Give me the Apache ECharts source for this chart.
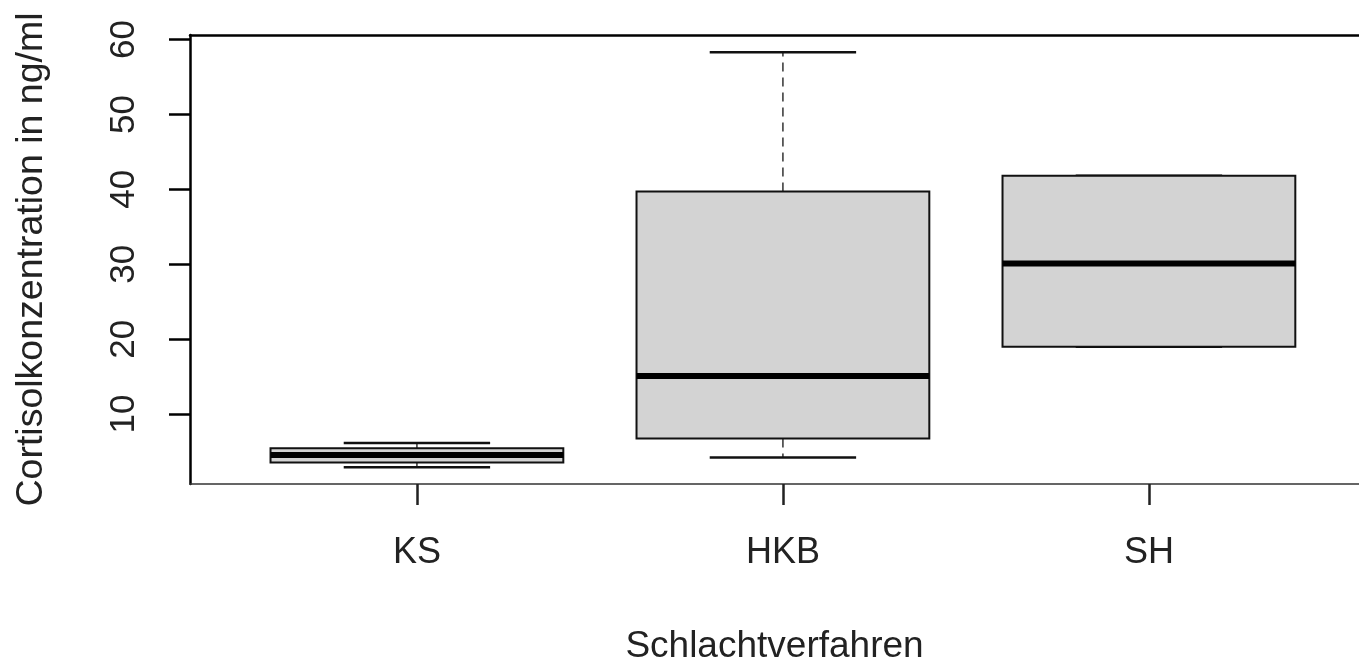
<!DOCTYPE html>
<html>
<head>
<meta charset="utf-8">
<script src="https://cdn.jsdelivr.net/npm/echarts@6/dist/echarts.min.js"></script>
<style>
  body { margin: 0; background: #fff; }
  #boxChart { width: 1359px; height: 663px; }
</style>
</head>
<body>
<div id="boxChart"></div>
<script>
// categories (group position 1, 2, 3 on the x axis)
let categories = ["KS", "HKB", "SH"];
let positions = [1, 2, 3];

// five number summary per group
let whiskerLow = [2.9, 4.2, 19.0];
let lowerQuartile = [3.55, 6.75, 19.0];
let median = [4.55, 15.1, 30.1];
let upperQuartile = [5.45, 39.7, 41.8];
let whiskerHigh = [6.15, 58.3, 41.8];

// tick values on the y axis
let yTicks = [10, 20, 30, 40, 50, 60];

let myChart = echarts.init(document.getElementById("boxChart"));

// building rows for the custom series
let boxData = positions.map((p, i) => [
  p,
  whiskerLow[i],
  lowerQuartile[i],
  median[i],
  upperQuartile[i],
  whiskerHigh[i],
]);

const fontFam = "Liberation Sans, Arial, sans-serif";

function renderBox(params, api) {
  let x = api.value(0);
  let low = api.value(1);
  let q1 = api.value(2);
  let med = api.value(3);
  let q3 = api.value(4);
  let high = api.value(5);

  let boxL = api.coord([x - 0.4, q3]);
  let boxR = api.coord([x + 0.4, q1]);
  let c = api.coord([x, 0]);
  let yLow = api.coord([x, low])[1];
  let yQ1 = api.coord([x, q1])[1];
  let yMed = api.coord([x, med])[1];
  let yQ3 = api.coord([x, q3])[1];
  let yHigh = api.coord([x, high])[1];
  let stapleL = api.coord([x - 0.2, low])[0];
  let stapleR = api.coord([x + 0.2, low])[0];

  let dashed = { stroke: "#333", lineWidth: 1.5, lineDash: [9, 6] };
  let solid = { stroke: "#111", lineWidth: 2.5 };

  return {
    type: "group",
    children: [
      // whiskers (dashed)
      { type: "line", shape: { x1: c[0], y1: yQ3, x2: c[0], y2: yHigh }, style: dashed },
      { type: "line", shape: { x1: c[0], y1: yQ1, x2: c[0], y2: yLow }, style: dashed },
      // staples
      { type: "line", shape: { x1: stapleL, y1: yHigh, x2: stapleR, y2: yHigh }, style: solid },
      { type: "line", shape: { x1: stapleL, y1: yLow, x2: stapleR, y2: yLow }, style: solid },
      // box
      {
        type: "rect",
        shape: { x: boxL[0], y: boxL[1], width: boxR[0] - boxL[0], height: boxR[1] - boxL[1] },
        style: { fill: "#d3d3d3", stroke: "#111", lineWidth: 2 },
      },
      // median
      { type: "line", shape: { x1: boxL[0], y1: yMed, x2: boxR[0], y2: yMed }, style: { stroke: "#000", lineWidth: 6 } },
    ],
  };
}

// x range: R's xlim starts at 0.38, the picture is cut off on the right
const xMin = 0.38;
const xMax = 3.574;

myChart.setOption({
  backgroundColor: "#fff",
  animation: false,
  grid: { left: 190, top: 35, right: 0, bottom: 179, outerBoundsMode: "none" },
  xAxis: [
    {
      type: "value",
      min: xMin,
      max: xMax,
      position: "bottom",
      splitLine: { show: false },
      axisLine: { show: true, lineStyle: { color: "#333", width: 1.5 } },
      axisTick: { show: true, length: 21, customValues: positions, lineStyle: { color: "#222", width: 2.5 } },
      axisLabel: {
        customValues: positions,
        formatter: (v) => categories[Math.round(v) - 1] || "",
        fontSize: 36,
        fontFamily: fontFam,
        color: "#222",
        margin: 51,
      },
      name: "Schlachtverfahren",
      nameLocation: "middle",
      nameGap: 144,
      nameTextStyle: { fontSize: 37, fontFamily: fontFam, color: "#222" },
    },
    {
      // top frame line only
      type: "value",
      min: xMin,
      max: xMax,
      position: "top",
      splitLine: { show: false },
      axisLine: { show: true, lineStyle: { color: "#000", width: 2.5 } },
      axisTick: { show: false },
      axisLabel: { show: false },
    },
  ],
  yAxis: {
    type: "value",
    min: 0.67,
    max: 60.6,
    splitLine: { show: false },
    axisLine: { show: true, lineStyle: { color: "#000", width: 2.5 } },
    axisTick: { show: true, length: 21, customValues: yTicks, lineStyle: { color: "#000", width: 2.5 } },
    axisLabel: {
      customValues: yTicks,
      rotate: 90,
      fontSize: 35,
      fontFamily: fontFam,
      color: "#222",
      margin: 48,
    },
    name: "Cortisolkonzentration in ng/ml",
    nameLocation: "middle",
    nameRotate: 90,
    nameGap: 139,
    nameTextStyle: { fontSize: 37.5, fontFamily: fontFam, color: "#222" },
  },
  series: [
    {
      type: "custom",
      xAxisIndex: 0,
      renderItem: renderBox,
      encode: { x: 0, y: [1, 2, 3, 4, 5] },
      data: boxData,
    },
  ],
});
</script>
</body>
</html>
